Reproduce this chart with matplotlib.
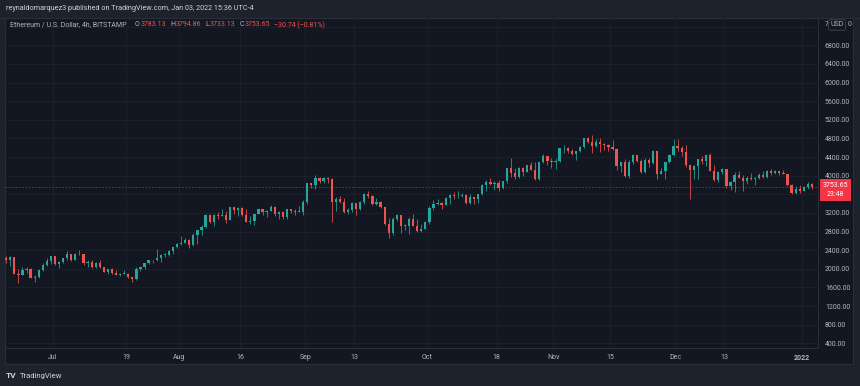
"""
ETH/USD 4h chart (Bitstamp), Jun 2021 - Jan 2022, TradingView dark theme look.
Candles are daily estimates read off the published screenshot.
"""
import datetime as dt

import numpy as np
import matplotlib
matplotlib.use("Agg")
import matplotlib.pyplot as plt
import matplotlib.dates as mdates
from matplotlib.patches import Rectangle
from matplotlib.text import Annotation
from matplotlib.transforms import blended_transform_factory

START = dt.datetime(2021, 6, 19)
FIRST_OPEN = 2230

# daily estimates, Jun 19 .. Jan 3
CLOSES = [
    2180, 2245, 1890, 1875, 1970, 1990, 1810, 1830, 1980, 2085, 2165, 2275,
    2110, 2150, 2225, 2320, 2195, 2325, 2315, 2115, 2145, 2035, 2135, 2035, 1940, 1995, 1915, 1875,
    1895, 1895, 1820, 1785, 1995, 2030, 2125, 2190, 2190, 2230, 2300, 2300, 2380, 2460, 2535,
    2555, 2610, 2505, 2725, 2830, 2890, 3155, 3015, 3165, 3140, 3165, 3045, 3320, 3270, 3310, 3150,
    3010, 3020, 3180, 3285, 3225, 3240, 3320, 3175, 3230, 3110, 3275, 3245, 3225, 3225, 3430,
    3835, 3790, 3940, 3890, 3950, 3925, 3430, 3495, 3425, 3210, 3265, 3410, 3285, 3430, 3610,
    3570, 3400, 3430, 3330, 2970, 2760, 3080, 3155, 2930, 2925, 3065, 2930, 2810, 2850, 3000,
    3310, 3390, 3420, 3380, 3515, 3585, 3560, 3560, 3575, 3415, 3545, 3495, 3605, 3790, 3865, 3830,
    3850, 3745, 3880, 4160, 4060, 3970, 4170, 4085, 4220, 4130, 3930, 4290, 4415, 4325, 4290,
    4320, 4590, 4605, 4530, 4475, 4520, 4610, 4810, 4730, 4635, 4730, 4670, 4650, 4625, 4575,
    4215, 4290, 3990, 4300, 4440, 4320, 4090, 4345, 4270, 4525, 4040, 4095, 4300, 4445, 4635,
    4590, 4515, 4225, 4120, 4200, 4360, 4310, 4435, 4110, 3910, 4090, 4135, 3785, 3860, 4020, 3960,
    3880, 3960, 3925, 3940, 4020, 3980, 4110, 4050, 4100, 4065, 4035, 3795, 3630, 3715, 3680,
    3765, 3830, 3755,
]
HIGHS = [
    2280, 2280, 2255, 2000, 2045, 2040, 2020, 1870, 1990, 2135, 2225, 2285,
    2275, 2160, 2240, 2390, 2325, 2350, 2410, 2320, 2190, 2180, 2145, 2190, 2045, 2005, 2025, 1970,
    1920, 1975, 1910, 1830, 2030, 2045, 2130, 2195, 2195, 2430, 2320, 2345, 2395, 2470, 2550,
    2700, 2665, 2630, 2760, 2840, 2950, 3170, 3185, 3180, 3230, 3275, 3240, 3330, 3330, 3320, 3335,
    3295, 3125, 3185, 3295, 3290, 3265, 3375, 3355, 3245, 3250, 3285, 3290, 3290, 3350, 3470,
    3840, 3840, 4020, 3970, 3970, 3975, 3940, 3540, 3560, 3525, 3300, 3440, 3420, 3450, 3620,
    3670, 3590, 3530, 3460, 3340, 3090, 3120, 3180, 3160, 2970, 3120, 3170, 3060, 2960, 3020,
    3340, 3470, 3490, 3440, 3540, 3610, 3640, 3670, 3625, 3600, 3600, 3550, 3610, 3820, 3900, 3960,
    3880, 3900, 3890, 4170, 4380, 4165, 4180, 4190, 4240, 4290, 4300, 4300, 4460, 4430, 4390,
    4380, 4600, 4660, 4610, 4580, 4530, 4640, 4820, 4840, 4870, 4780, 4810, 4710, 4690, 4770,
    4590, 4300, 4350, 4340, 4460, 4450, 4350, 4380, 4380, 4550, 4550, 4170, 4300, 4460, 4780,
    4780, 4630, 4650, 4240, 4230, 4360, 4430, 4450, 4490, 4230, 4100, 4160, 4140, 3890, 4090, 4110,
    4010, 4000, 4060, 3980, 4060, 4100, 4120, 4150, 4120, 4110, 4130, 4040, 3830, 3770, 3810,
    3780, 3860, 3840,
]
LOWS = [
    2130, 2050, 1880, 1700, 1860, 1910, 1800, 1720, 1810, 1960, 2050, 2095,
    2080, 2015, 2120, 2190, 2165, 2190, 2300, 2090, 2045, 2025, 2020, 2020, 1925, 1880, 1890, 1860,
    1855, 1880, 1800, 1720, 1770, 1960, 1990, 2100, 2115, 2160, 2155, 2250, 2270, 2325, 2440,
    2515, 2550, 2455, 2485, 2530, 2730, 2880, 2985, 2925, 3060, 3135, 2990, 3040, 3185, 3130, 3140,
    3000, 2970, 2950, 3170, 3165, 3120, 3235, 3140, 3060, 3070, 3080, 3200, 3150, 3210, 3160,
    3390, 3725, 3710, 3840, 3850, 3850, 3010, 3240, 3410, 3190, 3185, 3220, 3160, 3260, 3400,
    3530, 3370, 3370, 3300, 2940, 2660, 2730, 3020, 2760, 2830, 2740, 2920, 2790, 2780, 2850,
    2970, 3270, 3370, 3290, 3360, 3390, 3500, 3530, 3535, 3400, 3390, 3400, 3420, 3590, 3680, 3800,
    3690, 3680, 3710, 3840, 3970, 3920, 3940, 4000, 4070, 4120, 3910, 3900, 4270, 4240, 4160,
    4150, 4300, 4480, 4490, 4440, 4330, 4510, 4600, 4700, 4480, 4620, 4500, 4560, 4520, 4560,
    4120, 4070, 3970, 3960, 4250, 4300, 4060, 4050, 4190, 4260, 3920, 4030, 3930, 4280, 4420,
    4530, 4430, 4180, 3500, 3930, 3930, 4260, 4200, 4100, 3890, 3860, 4030, 3730, 3690, 3640, 3950,
    3680, 3830, 3900, 3790, 3920, 3960, 3940, 4020, 4040, 4020, 4030, 3780, 3610, 3600, 3630,
    3680, 3720, 3720,
]

LAST_PRICE = 3753.65
PRICE_TICKS = [400, 800, 1200, 1600, 2000, 2400, 2800, 3200, 3600, 4000, 4400, 4800,
               5200, 5600, 6000, 6400, 6800, 7200]
TIME_TICKS = ["2021-07-01", "2021-07-19", "2021-08-01", "2021-08-16", "2021-09-01",
              "2021-09-13", "2021-10-01", "2021-10-18", "2021-11-01", "2021-11-15",
              "2021-12-01", "2021-12-13", "2022-01-01"]
TIME_LABELS = ["Jul", "19", "Aug", "16", "Sep", "13", "Oct", "18", "Nov", "15",
               "Dec", "13", "2022"]

HEADER = "reynaldomarquez3 published on TradingView.com, Jan 03, 2022 15:36 UTC-4"
SYMBOL = "Ethereum / U.S. Dollar, 4h, BITSTAMP"
OHLC_TEXT = [("O", "3783.13"), ("H", "3794.86"), ("L", "3733.13"), ("C", "3753.65")]
CHANGE = "\u221230.74 (\u22120.81%)"

COLORS = {
    "up": "#26a69a",
    "down": "#ef5350",
    "pane": "#131722",
    "frame": "#1e222d",
    "border": "#2a2e39",
    "grid": "#1c202b",
    "text": "#b2b5be",
    "label": "#f23645",
}

W, H = 860, 386


def fx(px):
    return px / W


def fy(py):
    return 1 - py / H


def after(fig, anchor, text, color, gap):
    """Put a text right after another one on the same line."""
    return fig.add_artist(Annotation(
        text, xy=(1, 0.5), xycoords=anchor, xytext=(gap, 0), textcoords="offset points",
        fontsize=5, color=color, va="center", ha="left"))


if __name__ == "__main__":
    plt.rcParams["font.family"] = ["Roboto", "DejaVu Sans"]

    closes = np.array(CLOSES, dtype=float)
    highs = np.array(HIGHS, dtype=float)
    lows = np.array(LOWS, dtype=float)
    opens = np.concatenate([[FIRST_OPEN], closes[:-1]])
    days = [START + dt.timedelta(days=i, hours=12) for i in range(len(closes))]
    x = mdates.date2num(days)

    fig = plt.figure(figsize=(W / 100, H / 100), dpi=100, facecolor=COLORS["frame"])
    fig.patches.append(Rectangle((fx(5), fy(364)), fx(848), 346 / H, transform=fig.transFigure,
                                 fc=COLORS["pane"], ec=COLORS["border"], lw=0.8, zorder=-5))

    ax = fig.add_axes([fx(5), fy(348), fx(813), 330 / H], zorder=2)
    ax.set_facecolor("none")

    up = closes >= opens
    colors = np.where(up, COLORS["up"], COLORS["down"])
    ax.vlines(x, lows, highs, colors=colors, lw=0.55, zorder=3)
    bottoms = np.minimum(opens, closes)
    heights = np.maximum(np.abs(closes - opens), 8)
    ax.bar(x, heights, bottom=bottoms, width=0.55, color=colors, lw=0, zorder=4)

    ax.axhline(LAST_PRICE, color=COLORS["label"], lw=0.6, ls=(0, (2, 2)), alpha=0.6, zorder=2)

    ax.set_ylim(299, 7387)
    ax.set_xlim(mdates.date2num(dt.datetime(2021, 6, 19, 5)),
                mdates.date2num(dt.datetime(2022, 1, 5)))

    ax.yaxis.tick_right()
    ax.set_yticks(PRICE_TICKS)
    ax.set_yticklabels([f"{p:.2f}" for p in PRICE_TICKS])
    tick_dates = mdates.date2num([dt.datetime.fromisoformat(d) for d in TIME_TICKS])
    ax.set_xticks(tick_dates)
    ax.set_xticklabels(TIME_LABELS)
    ax.xaxis.get_ticklabels()[-1].set_fontweight("bold")
    ax.tick_params(axis="y", length=0, pad=5, labelsize=5, labelcolor=COLORS["text"])
    ax.tick_params(axis="x", length=0, pad=4, labelsize=5, labelcolor=COLORS["text"])
    ax.grid(True, color=COLORS["grid"], lw=0.7, zorder=0)

    for side in ["top", "left"]:
        ax.spines[side].set_visible(False)
    for side in ["right", "bottom"]:
        ax.spines[side].set_color(COLORS["border"])
        ax.spines[side].set_linewidth(0.8)

    # the red last-price box and the USD badge cover these two scale labels
    for lbl in ax.yaxis.get_ticklabels():
        if lbl.get_text() in ("3600.00", "7200.00"):
            lbl.set_visible(False)

    trans = blended_transform_factory(ax.transAxes, ax.transData)
    ax.annotate("3753.65\n23:48", xy=(1.0215, LAST_PRICE), xycoords=trans,
                xytext=(0, -2), textcoords="offset points", ha="center", va="center",
                fontsize=5, color="white", linespacing=1.3, zorder=10, annotation_clip=False,
                bbox=dict(boxstyle="square,pad=0.45", fc=COLORS["label"], ec="none"))

    fig.text(fx(837), fy(25), "USD", ha="center", va="center", fontsize=5, color=COLORS["text"],
             zorder=10,
             bbox=dict(boxstyle="round,pad=0.25", fc=COLORS["pane"], ec="#434651", lw=0.6))
    fig.text(fx(825), fy(25), "7", fontsize=5, color=COLORS["text"], va="center")
    fig.text(fx(848), fy(25), "0", fontsize=5, color=COLORS["text"], va="center")

    # header band and legend line
    fig.add_artist(plt.Line2D([fx(0), fx(W)], [fy(17.5), fy(17.5)], color=COLORS["border"], lw=0.8))
    fig.text(fx(6), fy(9), HEADER, fontsize=5.2, color="#d1d4dc", va="center")
    anchor = fig.text(fx(10), fy(25), SYMBOL, fontsize=5, color=COLORS["text"], va="center")
    gap = 6
    for letter, value in OHLC_TEXT:
        anchor = after(fig, anchor, letter, COLORS["text"], gap)
        anchor = after(fig, anchor, value, COLORS["down"], 0.4)
        gap = 3
    after(fig, anchor, CHANGE, COLORS["down"], 3)

    # footer logo
    fig.text(fx(6), fy(376), "TV", fontsize=6, fontweight="bold", color="#d1d4dc", va="center")
    fig.text(fx(20), fy(376), "TradingView", fontsize=5.5, color="#d1d4dc", va="center")

    fig.savefig("out.png", dpi=100, facecolor=fig.get_facecolor())
